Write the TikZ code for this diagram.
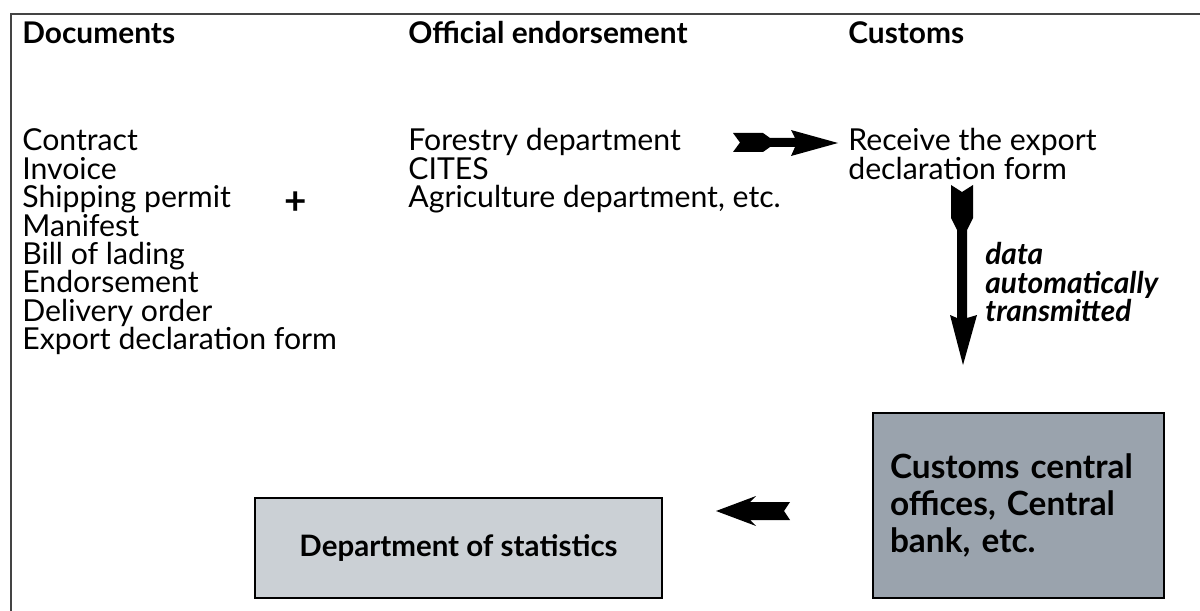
\documentclass[tikz,border=0pt]{standalone}
\usepackage{fontspec}
\setmainfont{Lato}
\definecolor{custfill}{HTML}{9AA3AD}
\definecolor{depfill}{HTML}{CBD0D5}
\definecolor{framecol}{HTML}{444444}
\begin{document}
\begin{tikzpicture}[x=0.02cm,y=-0.02cm,
  txt/.style={anchor=base west,inner sep=0pt,font=\fontsize{17.2}{18}\selectfont},
  head/.style={anchor=base west,inner sep=0pt,font=\fontsize{17}{18}\selectfont\bfseries},
  note/.style={anchor=base west,inner sep=0pt,font=\fontsize{17}{18}\selectfont\bfseries\itshape},
  box/.style={draw=black,line width=1.6pt,inner sep=0pt},
  arrowshape/.style={fill=black,draw=none}]
\useasboundingbox (0,0) rectangle (1200,611);
\draw[framecol,line width=1.4pt] (11,611) -- (11,14) -- (1200,14);
% headings
\node[head] (hdoc) at (22,44) {Documents};
\node[head] (hoff) at (408,44) {Official endorsement};
\node[head] (hcus) at (848,44) {Customs};
% documents list
\foreach \t [count=\i] in {Contract,Invoice,Shipping permit,Manifest,Bill of lading,Endorsement,Delivery order,Export declaration form}
  \node[txt] (d\i) at (22,{151+28.4*(\i-1)}) {\t};
\node[inner sep=0pt,font=\fontsize{22}{22}\selectfont\bfseries] (plus) at (296,203) {+};
% endorsement list
\node[txt] (o1) at (408,151) {Forestry department};
\node[txt] (o2) at (408,179.4) {CITES};
\node[txt] (o3) at (408,207.8) {Agriculture department, etc.};
% customs
\node[txt] (c1) at (848,151) {Receive the export};
\node[txt] (c2) at (848,179.4) {declaration form};
% note
\node[note] (n1) at (985,265) {data};
\node[note] (n2) at (985,293.4) {automatically};
\node[note] (n3) at (985,321.8) {transmitted};
% boxes
\node[box,fill=custfill,minimum width=5.82cm,minimum height=3.7cm,text width=5.14cm,inner xsep=0.34cm,align=left,
  font=\fontsize{19}{20.8}\selectfont\bfseries] (central) at (1018.5,505.5)
  {Customs central\\offices, Central\\bank, etc.};
\node[box,fill=depfill,minimum width=8.14cm,minimum height=2cm,
  font=\fontsize{16.8}{19}\selectfont\bfseries] (stats) at (458.5,548) {Department of statistics};
% arrows
\coordinate (a1) at (733,142.5);
\fill[arrowshape] (a1) ++(0,-9.5) -- ++(7,9.5) -- ++(-7,9.5) -- (763,152) -- (770,147) -- (795,147)
  -- (791,156) -- (838,143) -- (791,130) -- (795,138) -- (770,138) -- (763,133) -- cycle;
\coordinate (a2) at (962,185);
\fill[arrowshape] (a2) ++(-11,0) -- ++(11,7) -- ++(11,-7) -- (973,218) -- (967,230) -- (967,318)
  -- (977,315) -- (963,365) -- (950,315) -- (957,318) -- (957,230) -- (951,218) -- cycle;
\coordinate (a3) at (716,511);
\fill[arrowshape] (a3) -- (756,496) -- (750,502) -- (790,502) -- (784,511) -- (790,520)
  -- (750,520) -- (756,526) -- cycle;
\end{tikzpicture}
\end{document}
